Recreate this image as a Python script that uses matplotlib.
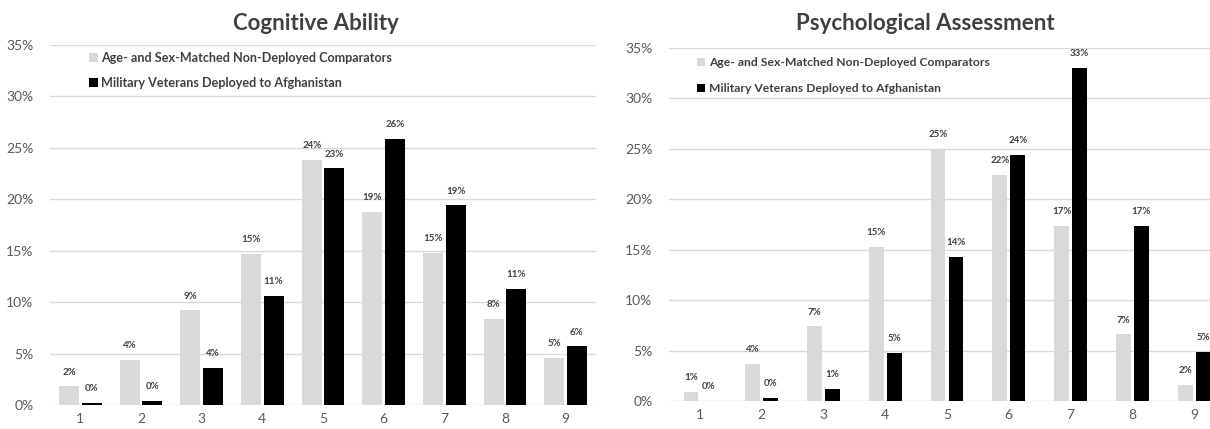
import matplotlib.pyplot as plt
import numpy as np

plt.rcParams['font.family'] = ['Lato', 'DejaVu Sans']

categories = [1, 2, 3, 4, 5, 6, 7, 8, 9]
series_names = ["Age- and Sex-Matched Non-Deployed Comparators",
                "Military Veterans Deployed to Afghanistan"]

# percentages per score
cognitive_comparators = [1.8, 4.4, 9.2, 14.7, 23.8, 18.8, 14.8, 8.4, 4.6]
cognitive_veterans = [0.2, 0.4, 3.6, 10.6, 23.0, 25.9, 19.4, 11.3, 5.7]
psych_comparators = [0.9, 3.7, 7.4, 15.3, 25.0, 22.4, 17.4, 6.6, 1.6]
psych_veterans = [0.0, 0.3, 1.2, 4.8, 14.3, 24.4, 33.0, 17.4, 4.9]

LIGHT = "#d9d9d9"
DARK = "#000000"
GRID = "#d9d9d9"
TEXT = "#595959"
LABEL = "#404040"

fig = plt.figure(figsize=(12.1, 4.29), dpi=100)


def draw_panel(ax, light, dark, width, offset, legend_pos, legend_size, legend_gap):
    x = np.arange(len(categories))
    b1 = ax.bar(x - offset, light, width, color=LIGHT, label=series_names[0], zorder=2)
    b2 = ax.bar(x + offset, dark, width, color=DARK, label=series_names[1], zorder=2)
    for bars, vals in ((b1, light), (b2, dark)):
        for rect, v in zip(bars, vals):
            ax.annotate(f"{v:.0f}%", (rect.get_x() + rect.get_width() / 2, v),
                        xytext=(0, 7), textcoords="offset points",
                        ha="center", va="bottom", fontsize=7,
                        fontweight="bold", color=LABEL)
    ax.set_xlim(-0.5, len(categories) - 0.5)
    ax.set_ylim(0, 35)
    ax.set_yticks(range(0, 36, 5))
    ax.set_yticklabels([f"{t}%" for t in range(0, 36, 5)])
    ax.set_xticks(x)
    ax.set_xticklabels([str(c) for c in categories])
    ax.tick_params(length=0, labelsize=10, labelcolor=TEXT)
    ax.tick_params(axis="y", pad=12)
    ax.tick_params(axis="x", pad=6)
    ax.grid(axis="y", color=GRID, linewidth=1, zorder=0)
    for s in ax.spines.values():
        s.set_visible(False)
    leg = ax.legend(loc="upper left", bbox_to_anchor=legend_pos, frameon=False,
                    fontsize=legend_size, handlelength=0.7, handleheight=0.7,
                    handletextpad=0.3, labelspacing=legend_gap)
    for t in leg.get_texts():
        t.set_color(LABEL)
        t.set_fontweight("bold")


ax1 = fig.add_axes([50 / 1210, 24 / 429, 546 / 1210, 360 / 429])
draw_panel(ax1, cognitive_comparators, cognitive_veterans, 0.33, 0.185,
           (0.05, 1.012), 9.1, 1.0)

ax2 = fig.add_axes([669 / 1210, 28 / 429, 556 / 1210, 353 / 429])
draw_panel(ax2, psych_comparators, psych_veterans, 0.24, 0.145,
           (0.03, 1.005), 8.7, 1.25)

fig.text(316 / 1210, 1 - 24 / 429, "Cognitive Ability", ha="center", va="center",
         fontsize=16, fontweight="bold", color=LABEL)
fig.text(925 / 1210, 1 - 24 / 429, "Psychological Assessment", ha="center", va="center",
         fontsize=16, fontweight="bold", color=LABEL)

fig.savefig("out.png", dpi=100)
